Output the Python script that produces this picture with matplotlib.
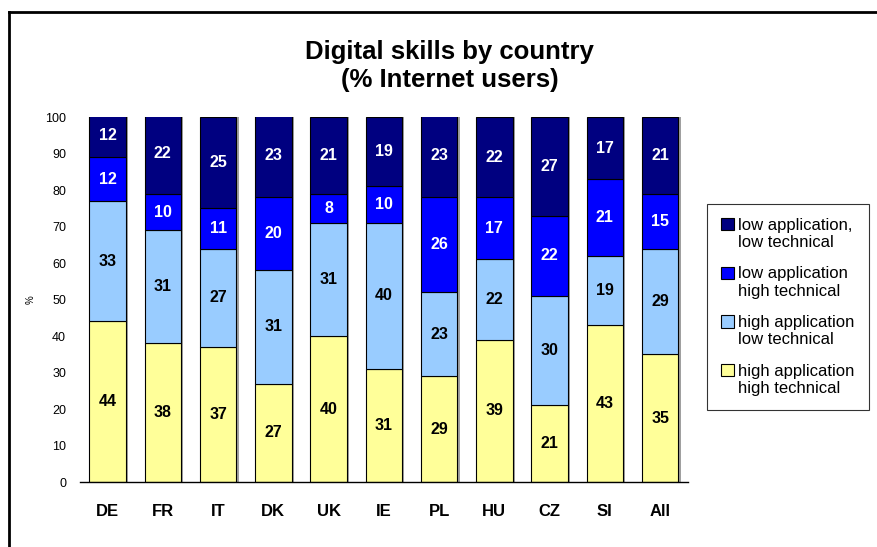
import matplotlib
matplotlib.use("Agg")
import matplotlib.pyplot as plt
from matplotlib.lines import Line2D
from matplotlib.patches import Patch, Rectangle
from matplotlib.legend_handler import HandlerPatch
import numpy as np

plt.rcParams['font.family'] = ['Liberation Sans', 'DejaVu Sans']

countries = ["DE", "FR", "IT", "DK", "UK", "IE", "PL", "HU", "CZ", "SI", "All"]
high_app_high_tech = [44, 38, 37, 27, 40, 31, 29, 39, 21, 43, 35]
high_app_low_tech = [33, 31, 27, 31, 31, 40, 23, 22, 30, 19, 29]
low_app_high_tech = [12, 10, 11, 20, 8, 10, 26, 17, 22, 21, 15]
low_app_low_tech = [12, 22, 25, 23, 21, 19, 23, 22, 27, 17, 21]

series = [
    ("high application\nhigh technical", high_app_high_tech, "#FFFF99", "black"),
    ("high application\nlow technical", high_app_low_tech, "#99CCFF", "black"),
    ("low application\nhigh technical", low_app_high_tech, "#0000FF", "white"),
    ("low application,\nlow technical", low_app_low_tech, "#000080", "white"),
]

fig = plt.figure(figsize=(8.77, 5.47), dpi=100)
ax = fig.add_axes([0.0912, 0.1188, 0.693, 0.667])

x = np.arange(len(countries))
width = 0.66
bottom = np.zeros(len(countries))
handles = []
for name, vals, color, tcolor in series:
    vals = np.array(vals, dtype=float)
    ax.bar(x + 0.04, vals, width, bottom=bottom, color="#A0A0A0", edgecolor="none", zorder=1)
    ax.bar(x, vals, width, bottom=bottom, color=color, edgecolor="black", linewidth=0.8, zorder=2)
    for xi, b, v in zip(x, bottom, vals):
        ax.text(xi, b + v / 2, f"{int(v)}", ha="center", va="center", color=tcolor,
                fontsize=11.5, fontweight="bold", zorder=3)
    bottom += vals
    handles.append(Patch(facecolor=color, edgecolor="black", linewidth=0.8, label=name))

ax.set_xlim(-0.5, len(countries) - 0.5)
ax.set_ylim(0, 100)
ax.set_yticks(range(0, 101, 10))
ax.tick_params(axis="y", length=0, labelsize=9, pad=10)
ax.tick_params(axis="x", length=0, labelsize=12, pad=16)
ax.set_xticks(x)
ax.set_xticklabels(countries, fontweight="bold")
for s in ["top", "right", "left"]:
    ax.spines[s].set_visible(False)
ax.spines["bottom"].set_linewidth(1.0)
ax.set_ylabel("%", fontsize=7, labelpad=7)

fig.text(0.513, 0.879, "Digital skills by country\n(% Internet users)", ha="center", va="center",
         fontsize=18.5, fontweight="bold", linespacing=1.2)


def top_aligned_patch(legend, orig_handle, xdescent, ydescent, width, height, fontsize):
    return Rectangle((-xdescent, -ydescent + 0.6 * fontsize), width, height)


leg = fig.legend(handles=handles[::-1], loc="center", bbox_to_anchor=(0.8985, 0.4388),
                 fontsize=12, frameon=True, fancybox=False, edgecolor="black",
                 handlelength=0.75, handleheight=0.75, handletextpad=0.25, labelspacing=0.97,
                 borderpad=0.85,
                 handler_map={Patch: HandlerPatch(patch_func=top_aligned_patch)})
leg.get_frame().set_linewidth(0.8)

fig.add_artist(Line2D([9 / 877, 9 / 877], [1 - 12 / 547, 0], transform=fig.transFigure,
                      color="black", linewidth=2))
fig.add_artist(Line2D([9 / 877, 1], [1 - 12 / 547, 1 - 12 / 547], transform=fig.transFigure,
                      color="black", linewidth=2))

fig.savefig("out.png", dpi=100)
